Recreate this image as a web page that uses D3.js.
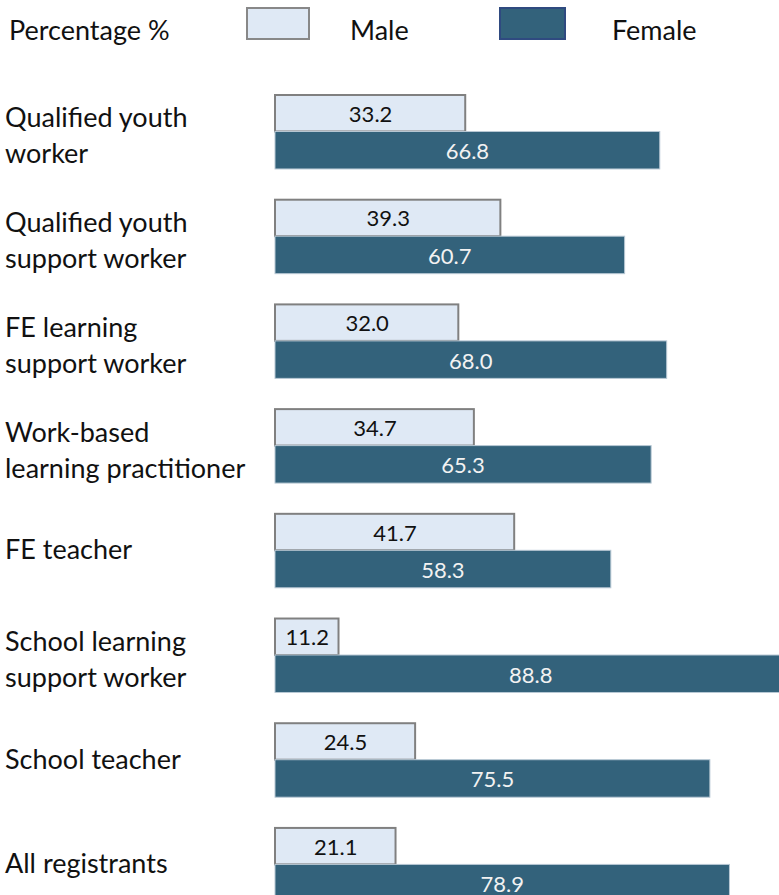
<!DOCTYPE html>
<html>
<head>
<meta charset="utf-8">
<script src="https://cdn.jsdelivr.net/npm/d3@7"></script>
<style>
  html, body { margin: 0; padding: 0; background: #ffffff; }
  svg { display: block; }
  text { font-family: Lato, "Open Sans", sans-serif; }
</style>
</head>
<body>
<svg id="chart" width="779" height="895"></svg>
<script>
// ---- data ----
const categories = [
  "Qualified youth worker",
  "Qualified youth support worker",
  "FE learning support worker",
  "Work-based learning practitioner",
  "FE teacher",
  "School learning support worker",
  "School teacher",
  "All registrants"
];
const categoryLines = [
  ["Qualified youth", "worker"],
  ["Qualified youth", "support worker"],
  ["FE learning", "support worker"],
  ["Work-based", "learning practitioner"],
  ["FE teacher"],
  ["School learning", "support worker"],
  ["School teacher"],
  ["All registrants"]
];
const seriesNames = ["Male", "Female"];
const maleValues   = [33.2, 39.3, 32.0, 34.7, 41.7, 11.2, 24.5, 21.1];
const femaleValues = [66.8, 60.7, 68.0, 65.3, 58.3, 88.8, 75.5, 78.9];
const axisTitle = "Percentage %";

// ---- layout ----
const svg = d3.select("#chart");
const colors = { Male: "#dfe9f5", Female: "#33627b" };
const strokes = { Male: "#808080", Female: "#b8c8d4" };
const textColors = { Male: "#111111", Female: "#f2f2f2" };

const x = d3.scaleLinear().domain([0, 100]).range([275, 275 + 576]);
const y = d3.scaleBand().domain(categories)
  .range([94, 94 + 8 * 104.7 - 29.7]).paddingInner(0.284).paddingOuter(0);
const ySub = d3.scaleBand().domain(seriesNames).range([0, y.bandwidth()]);

const rows = categories.map((c, i) => ({
  cat: c, lines: categoryLines[i],
  vals: [{ s: "Male", v: maleValues[i] }, { s: "Female", v: femaleValues[i] }]
}));

// ---- legend ----
svg.append("text").attr("x", 9).attr("y", 40).attr("font-size", 27)
  .attr("fill", "#111").text(axisTitle);
const legendPos = [{ s: "Male", rx: 247, tx: 350 }, { s: "Female", rx: 500, tx: 612 }];
const lg = svg.selectAll("g.legend").data(legendPos).join("g").attr("class", "legend");
lg.append("rect")
  .attr("x", d => d.rx).attr("y", 8)
  .attr("width", d => d.s === "Male" ? 62 : 65).attr("height", 31)
  .attr("fill", d => colors[d.s])
  .attr("stroke", d => d.s === "Male" ? "#888888" : "#2f4a80")
  .attr("stroke-width", 2);
lg.append("text").attr("x", d => d.tx).attr("y", 40).attr("font-size", 27)
  .attr("fill", "#111").text(d => d.s);

// ---- bars ----
const g = svg.selectAll("g.row").data(rows).join("g").attr("class", "row")
  .attr("transform", d => `translate(0,${y(d.cat)})`);

g.selectAll("rect.bar").data(d => d.vals).join("rect").attr("class", "bar")
  .attr("x", x(0))
  .attr("y", d => ySub(d.s) + (d.s === "Male" ? 1 : 0))
  .attr("width", d => x(d.v) - x(0) - (d.s === "Male" ? 1 : 0))
  .attr("height", d => ySub.bandwidth() - (d.s === "Male" ? 1 : 0))
  .attr("fill", d => colors[d.s])
  .attr("stroke", d => strokes[d.s])
  .attr("stroke-width", d => d.s === "Male" ? 2 : 1);

g.selectAll("text.val").data(d => d.vals).join("text").attr("class", "val")
  .attr("x", d => (x(0) + x(d.v)) / 2)
  .attr("y", d => ySub(d.s) + ySub.bandwidth() / 2 + 9)
  .attr("text-anchor", "middle")
  .attr("font-size", 22)
  .attr("fill", d => textColors[d.s])
  .text(d => d3.format(".1f")(d.v));

// ---- category labels ----
g.each(function(d) {
  const sel = d3.select(this);
  const mid = y.bandwidth() / 2;
  const n = d.lines.length;
  const base = n === 1 ? mid + 9 : mid - 4;
  sel.selectAll("text.cat").data(d.lines).join("text").attr("class", "cat")
    .attr("x", 5)
    .attr("y", (t, j) => base + j * 36)
    .attr("font-size", 27)
    .attr("fill", "#111")
    .text(t => t);
});
</script>
</body>
</html>
